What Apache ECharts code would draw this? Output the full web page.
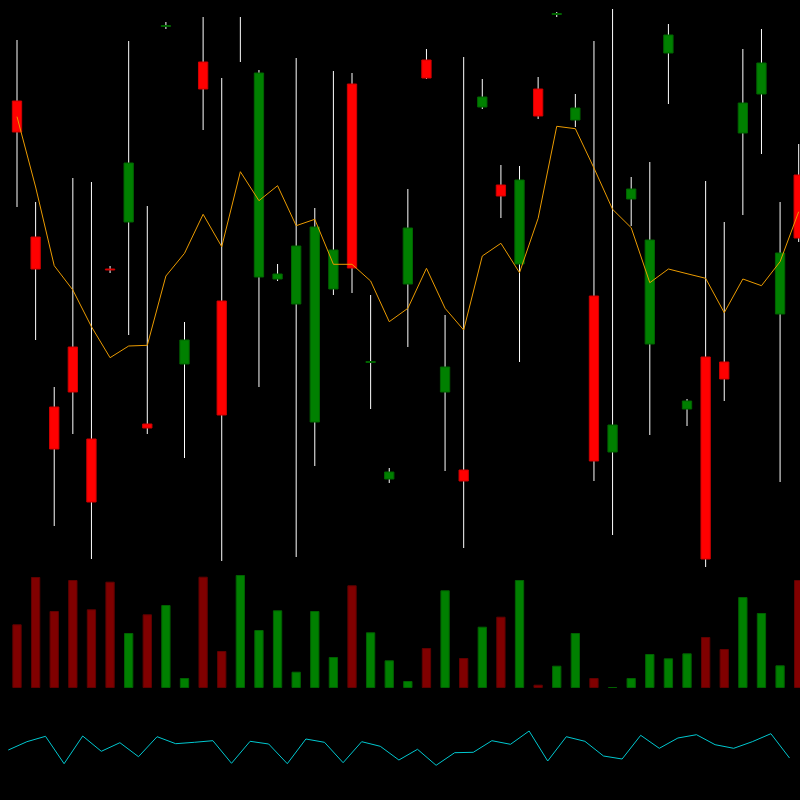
<!DOCTYPE html>
<html>
<head>
<meta charset="utf-8">
<script src="https://cdn.jsdelivr.net/npm/echarts@6/dist/echarts.min.js"></script>
<style>html,body{margin:0;padding:0;background:#000;}#c{width:800px;height:800px;}</style>
</head>
<body>
<div id="c"></div>
<script>
// Price candles: [open, close, low, high]
const opens  = [499,363,193,253,161,331,378,176,574,236,538,299,538,323,321,296,178,311,516,238,121,316,540,208,130,493,415,336,511,586,480,304,148,401,256,547,191,243,238,467,506,286,425];
const closes = [468,331,151,208,98,330.5,437,172,574.5,260,511,185,538,527,326,354,373,350,332,238.5,128,372,522,233,119,503,404,420,484,586.5,492,139,175,411,360,565,199,41,221,497,537,347,362];
const lows   = [393,260,74,166,41,327,265,166,571,142,470,39,538,213,319,43,134,305,307,191,117,253,521,129,52,491,382,238,481,583,473,119,65,374,165,496,174,33,199,385,446,118,358];
const highs  = [560,398,213,422,418,334,559,394,578,278,583,522,583,530,336,542,392,529,527,305,132,411,551,285,543,521,435,434,523,588,506,559,591,423,438,576,201,419,378,551,571,398,456];
// Moving average line
const maLine = [483.3,413,334.3,310,273.3,242.3,254,254.7,324,346.7,385.7,353.3,428.3,399.3,414.3,374.3,380.7,335.7,335.7,319,278.3,291.7,331.7,291.7,270,344,356.7,327.3,381.7,473.7,471.3,432,390.7,372.3,317.3,331,326.3,321.7,287.3,321,314.3,338.3,388.3];
// Volume
const volumes = [63.7,111,77,108,78.7,106.3,55,73.7,83,10,111.3,37,113,58,77.7,16.3,77,31,102.7,55.7,27.7,7,40,97.7,30,61.3,71.3,108,3.3,22.3,55,10,1,10,34,29.7,34.7,51,39,91,75,22.7,108];
// Oscillator
const osc = [50,58.3,63.7,36.3,64,48.7,57.3,43.3,63.3,56.3,57.7,59.3,36.7,58.7,56,36.3,61,57.7,37.3,58.3,53.7,40,50.7,34.7,47.3,47.7,59.3,55.7,69,39,63.3,58.7,44,41,64.7,51.7,62,65.3,55.3,51.7,58.3,66.3,42];

const cats = opens.map((_, i) => String(i + 1));
const candleData = opens.map((o, i) => [i, o, closes[i], lows[i], highs[i]]);
const volData = volumes.map((v, i) => ({
  value: v,
  itemStyle: closes[i] >= opens[i]
    ? { color: '#008000', borderColor: '#006000', borderWidth: 1 }
    : { color: '#800000', borderColor: '#600000', borderWidth: 1 }
}));

const chart = echarts.init(document.getElementById('c'), null, { renderer: 'canvas' });
chart.setOption({
  backgroundColor: '#000000',
  animation: false,
  grid: [
    { left: 7.7, width: 800.3, top: 0, height: 600, outerBoundsMode: 'none', containLabel: false },
    { left: 7.7, width: 800.3, top: 570, height: 118, outerBoundsMode: 'none', containLabel: false },
    { left: 8.3, width: 781.2, top: 700, height: 100, outerBoundsMode: 'none', containLabel: false }
  ],
  xAxis: [
    { type: 'category', data: cats, gridIndex: 0, show: false, boundaryGap: true },
    { type: 'category', data: cats, gridIndex: 1, show: false, boundaryGap: true },
    { type: 'category', data: cats, gridIndex: 2, show: false, boundaryGap: false }
  ],
  yAxis: [
    { type: 'value', gridIndex: 0, min: 0, max: 600, show: false, splitLine: { show: false } },
    { type: 'value', gridIndex: 1, min: 0, max: 118, show: false, splitLine: { show: false } },
    { type: 'value', gridIndex: 2, min: 0, max: 100, show: false, splitLine: { show: false } }
  ],
  series: [
    {
      type: 'custom',
      xAxisIndex: 0, yAxisIndex: 0,
      data: candleData,
      encode: { x: 0, y: [1, 2, 3, 4] },
      clip: false,
      renderItem: function (params, api) {
        const x = api.value(0);
        const o = api.value(1), c = api.value(2), l = api.value(3), h = api.value(4);
        const pO = api.coord([x, o]);
        const pC = api.coord([x, c]);
        const pL = api.coord([x, l]);
        const pH = api.coord([x, h]);
        const band = api.size([1, 0])[0];
        const w = band * 0.5;
        const up = c >= o;
        const top = Math.min(pO[1], pC[1]);
        const children = [
          { type: 'line', shape: { x1: pH[0], y1: pH[1], x2: pL[0], y2: pL[1] },
            style: { stroke: '#ffffff', lineWidth: 1 } }
        ];
        if (o !== c) {
          const bh = Math.max(Math.abs(pO[1] - pC[1]), 1);
          children.push({ type: 'rect', shape: { x: pO[0] - w / 2, y: top, width: w, height: bh },
            style: up ? { fill: '#008000', stroke: '#006400', lineWidth: 1 }
                      : { fill: '#ff0000', stroke: '#d00000', lineWidth: 1 } });
        }
        return { type: 'group', children: children };
      }
    },
    {
      type: 'line', xAxisIndex: 0, yAxisIndex: 0, data: maLine,
      symbol: 'none', lineStyle: { color: '#eb9b00', width: 1 }, z: 5
    },
    {
      type: 'bar', xAxisIndex: 1, yAxisIndex: 1, data: volData, barWidth: '50%'
    },
    {
      type: 'line', xAxisIndex: 2, yAxisIndex: 2, data: osc,
      symbol: 'none', lineStyle: { color: '#00c8d0', width: 1 }
    }
  ]
});
</script>
</body>
</html>
